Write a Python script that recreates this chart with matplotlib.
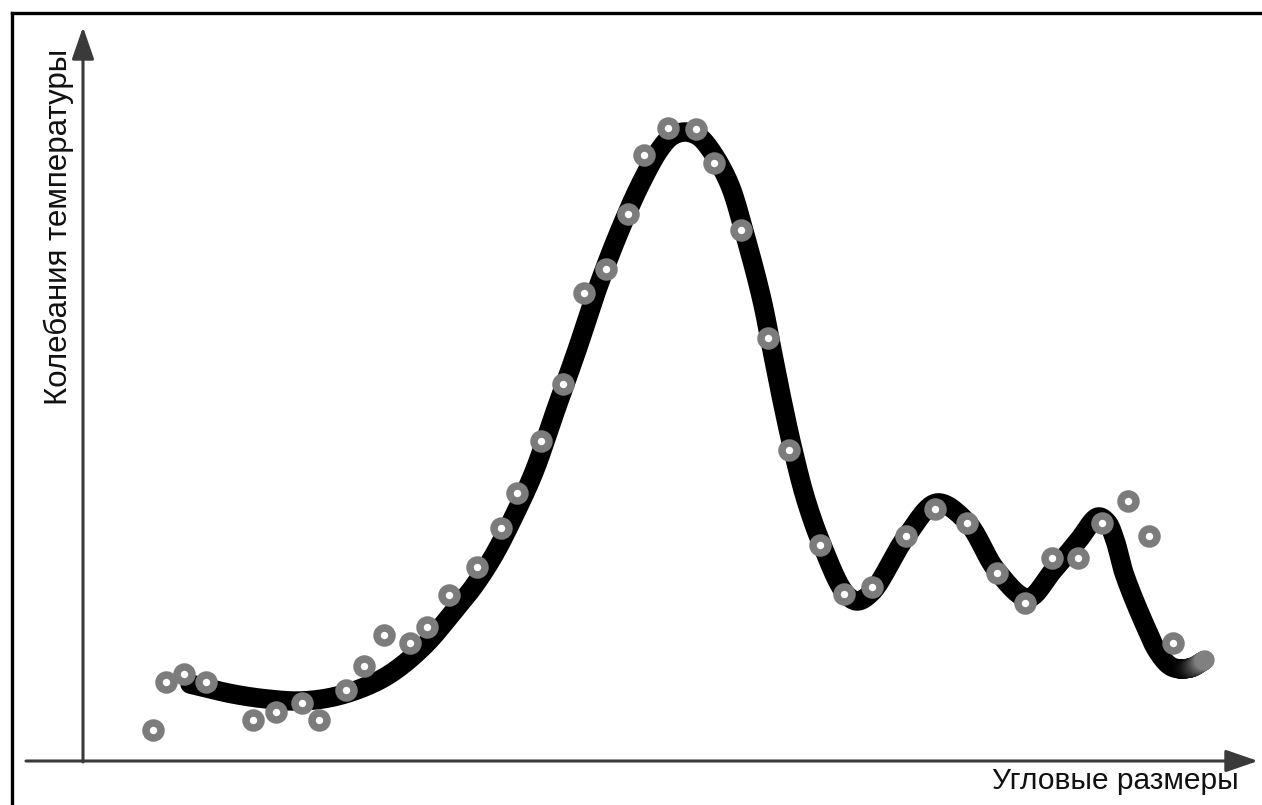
import numpy as np
import matplotlib
matplotlib.use("Agg")
import matplotlib.pyplot as plt
from matplotlib.lines import Line2D
from matplotlib.collections import LineCollection

# ---- data (chart units: x = angular size, y = temperature fluctuation) ----
pts_x = [70, 83, 101, 123, 170, 193, 219, 236, 263, 281, 301, 327, 344, 366,
         394, 418, 434, 458, 480, 501, 523, 545, 561, 585, 613, 631, 658, 685,
         706, 737, 761, 789, 823, 852, 884, 914, 942, 969, 995, 1019, 1045,
         1066, 1090]
pts_y = [31, 79, 87, 79, 41, 49, 58, 41, 71, 95, 126, 118, 134, 166,
         194, 233, 268, 320, 377, 468, 492, 547, 606, 633, 632, 598, 531, 423,
         311, 216, 167, 174, 225, 252, 238, 188, 158, 203, 203, 238, 260,
         225, 118]

# smooth theoretical curve
curve_x = [107, 150, 184, 217, 250, 284, 310, 342, 371, 391, 411, 431, 451,
           472, 494, 515, 537, 558, 577, 589, 602, 615, 627, 646, 662, 679,
           689, 699, 710, 723, 739, 762, 774, 789, 823, 854, 884, 914, 945,
           969, 995, 1015, 1024, 1032, 1041, 1061, 1075, 1089, 1107, 1122]
curve_y = [77, 67, 62, 60, 64, 75, 89, 116, 150, 175, 206, 245, 289,
           349, 411, 474, 531, 578, 612, 625, 629, 625, 612, 578, 526, 461,
           411, 361, 311, 261, 216, 168, 160, 169, 224, 258, 239, 190, 163,
           189, 220, 244, 239, 221, 188, 138, 109, 94, 93, 101]

x_label = "Угловые размеры"
y_label = "Колебания температуры"


def centripetal_cr(x, y, n=24, alpha=0.5):
    p = np.column_stack([x, y]).astype(float)
    p = np.vstack([2 * p[0] - p[1], p, 2 * p[-1] - p[-2]])
    out = []
    for i in range(1, len(p) - 2):
        P0, P1, P2, P3 = p[i - 1], p[i], p[i + 1], p[i + 2]
        t0 = 0.0
        t1 = t0 + np.linalg.norm(P1 - P0) ** alpha
        t2 = t1 + np.linalg.norm(P2 - P1) ** alpha
        t3 = t2 + np.linalg.norm(P3 - P2) ** alpha
        t = np.linspace(t1, t2, n, endpoint=False)[:, None]
        A1 = (t1 - t) / (t1 - t0) * P0 + (t - t0) / (t1 - t0) * P1
        A2 = (t2 - t) / (t2 - t1) * P1 + (t - t1) / (t2 - t1) * P2
        A3 = (t3 - t) / (t3 - t2) * P2 + (t - t2) / (t3 - t2) * P3
        B1 = (t2 - t) / (t2 - t0) * A1 + (t - t0) / (t2 - t0) * A2
        B2 = (t3 - t) / (t3 - t1) * A2 + (t - t1) / (t3 - t1) * A3
        C = (t2 - t) / (t2 - t1) * B1 + (t - t1) / (t2 - t1) * B2
        out.append(C)
    out.append(p[-2][None, :])
    out = np.vstack(out)
    return out[:, 0], out[:, 1]


W, H = 1262, 805
fig = plt.figure(figsize=(W / 100, H / 100), dpi=100)
ax = fig.add_axes([0, 0, 1, 1])
ax.set_xlim(-83, W - 83)
ax.set_ylim(761 - H, 761)
ax.axis("off")

# frame border (left and top visible)
fig.add_artist(Line2D([12 / W, 12 / W], [0, 1 - 13 / H], color="black", lw=2.4,
                      transform=fig.transFigure))
fig.add_artist(Line2D([12 / W, 1], [1 - 13 / H, 1 - 13 / H], color="black", lw=2.4,
                      transform=fig.transFigure))

axis_col = "#3a3a3a"
ax.annotate("", xy=(1175, 0), xytext=(-57, 0),
            arrowprops=dict(arrowstyle="-|>,head_length=1.1,head_width=0.38",
                            lw=2.2, color=axis_col, shrinkA=0, shrinkB=0,
                            mutation_scale=18))
ax.annotate("", xy=(0, 734), xytext=(0, -1),
            arrowprops=dict(arrowstyle="-|>,head_length=1.1,head_width=0.38",
                            lw=2.2, color=axis_col, shrinkA=0, shrinkB=0,
                            mutation_scale=18))

cx, cy = centripetal_cr(curve_x, curve_y)
nfade = 40
ax.plot(cx[:-nfade + 1], cy[:-nfade + 1], color="black", lw=14,
        solid_capstyle="round", zorder=3)
segs = [[(cx[i], cy[i]), (cx[i + 1], cy[i + 1])] for i in range(len(cx) - nfade, len(cx) - 1)]
g = 0.5 * np.linspace(0.0, 1.0, len(segs)) ** 1.8
cols = [(v, v, v) for v in g]
ax.add_collection(LineCollection(segs, colors=cols, linewidths=14,
                                 capstyle="round", zorder=3))

ax.plot(pts_x, pts_y, linestyle="none", marker="o", ms=10.8, mew=5.4,
        mfc="white", mec="#7c7c7c", zorder=4)

fonts = ["Liberation Sans", "DejaVu Sans"]
ax.text(-24, 534, y_label, rotation=90, ha="center", va="center",
        fontsize=22.5, family=fonts, color="#111111")
ax.text(1032, -20, x_label, ha="center", va="center",
        fontsize=21.5, family=fonts, color="#111111")

fig.savefig("out.png", dpi=100, facecolor="white")
